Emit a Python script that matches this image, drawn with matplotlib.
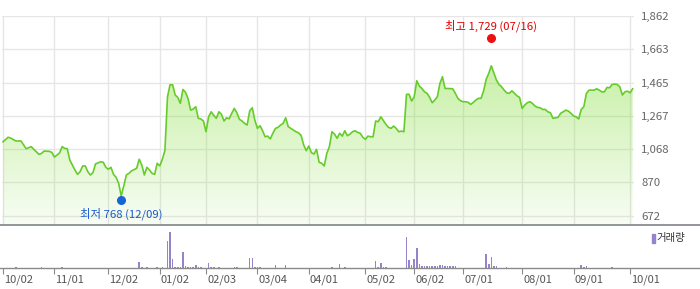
import matplotlib
matplotlib.use("Agg")
import matplotlib.pyplot as plt
import matplotlib.transforms as mtransforms
from matplotlib.patches import Rectangle
import numpy as np

plt.rcParams['font.family'] = ['Noto Sans CJK KR', 'DejaVu Sans']

# ---- data (trading-day index from 2024/10/02) ----
days = [0, 2, 3, 5, 7, 9, 11, 12, 14, 15, 16, 18, 19, 20, 22, 23, 24, 25, 26, 28,
        29, 30, 31, 32, 33, 34, 35, 36, 38, 39, 40, 41, 42, 43, 44, 45, 46, 47, 48, 49,
        50, 52, 53, 54, 55, 56, 57, 58, 59, 60, 61, 62, 63, 64, 65, 66, 67, 68, 69, 70,
        71, 72, 73, 74, 75, 76, 77, 78, 79, 80, 81, 82, 83, 84, 85, 86, 87, 88, 89, 90,
        91, 92, 93, 94, 95, 96, 97, 98, 99, 100, 101, 102, 103, 104, 105, 106, 107, 108, 109, 110,
        111, 112, 113, 114, 115, 116, 117, 118, 119, 120, 121, 122, 123, 124, 125, 126, 127, 128, 129, 130,
        131, 132, 133, 134, 135, 136, 137, 138, 139, 140, 141, 142, 143, 144, 145, 146, 147, 148, 149, 150,
        151, 152, 153, 154, 155, 156, 157, 158, 159, 160, 161, 162, 163, 164, 165, 166, 167, 168, 169, 170,
        171, 172, 173, 175, 176, 177, 178, 179, 180, 181, 182, 183, 184, 185, 186, 187, 188, 189, 190, 191,
        192, 193, 194, 195, 196, 197, 198, 200, 201, 202, 203, 204, 205, 206, 207, 208, 209, 210, 211, 212,
        213, 214, 215, 216, 217, 218, 219, 220, 221, 222, 223, 224, 225, 226, 227, 228, 229, 230, 231, 232,
        233, 234, 235, 236, 237, 238, 239, 240, 241, 242, 243, 244, 245]
prices = [1112, 1139, 1134, 1117, 1117, 1071, 1083, 1067, 1037, 1043, 1057, 1055, 1049, 1021, 1045, 1083, 1073, 1071, 1003, 944,
          918, 934, 968, 968, 934, 914, 928, 980, 993, 990, 960, 948, 960, 918, 900, 865, 789, 850, 914, 924,
          938, 954, 1008, 974, 914, 960, 944, 924, 918, 984, 968, 1008, 1060, 1380, 1452, 1452, 1391, 1377, 1341, 1424,
          1407, 1370, 1301, 1307, 1321, 1252, 1248, 1236, 1172, 1261, 1291, 1270, 1252, 1291, 1276, 1236, 1255, 1249, 1282, 1311,
          1285, 1246, 1236, 1222, 1212, 1297, 1315, 1240, 1192, 1208, 1178, 1142, 1146, 1129, 1163, 1192, 1198, 1212, 1222, 1255,
          1202, 1192, 1182, 1172, 1165, 1150, 1093, 1059, 1087, 1047, 1039, 1067, 990, 984, 968, 1043, 1083, 1172, 1158, 1133,
          1163, 1146, 1178, 1148, 1158, 1172, 1178, 1168, 1163, 1139, 1127, 1146, 1142, 1142, 1236, 1232, 1261, 1238, 1216, 1198,
          1192, 1206, 1192, 1172, 1176, 1172, 1395, 1395, 1355, 1380, 1476, 1444, 1430, 1410, 1401, 1377, 1345, 1361, 1380, 1460,
          1500, 1430, 1430, 1428, 1401, 1371, 1357, 1351, 1351, 1347, 1335, 1347, 1361, 1371, 1371, 1415, 1484, 1520, 1565, 1523,
          1480, 1454, 1440, 1420, 1404, 1401, 1416, 1386, 1377, 1311, 1331, 1345, 1351, 1341, 1325, 1317, 1315, 1305, 1305, 1291,
          1285, 1252, 1255, 1258, 1282, 1291, 1301, 1295, 1282, 1266, 1261, 1248, 1305, 1321, 1400, 1420, 1420, 1420, 1428, 1420,
          1410, 1410, 1436, 1434, 1454, 1456, 1454, 1440, 1391, 1410, 1414, 1404, 1428]

vol_days = [5, 15, 23, 53, 54, 56, 60, 62, 64, 65, 66, 67, 68, 69, 70, 71, 72, 73, 74, 75,
            76, 77, 80, 81, 82, 84, 90, 91, 96, 97, 98, 99, 100, 106, 110, 128, 131, 133, 145, 146,
            147, 148, 149, 157, 158, 159, 160, 161, 162, 163, 164, 165, 166, 167, 168, 169, 170, 171, 172, 173,
            174, 175, 176, 188, 189, 190, 191, 192, 196, 225, 226, 227, 237]
volumes = [70, 70, 70, 600, 100, 80, 80, 80, 2700, 3600, 900, 100, 100, 100, 1600, 200, 100, 100, 100, 270,
           100, 100, 500, 100, 100, 100, 100, 100, 1000, 1000, 100, 100, 100, 300, 300, 100, 400, 100, 700, 100,
           470, 100, 100, 3100, 800, 300, 900, 2000, 400, 150, 150, 150, 150, 150, 150, 200, 300, 300, 150, 150,
           150, 150, 150, 1400, 400, 1100, 150, 150, 100, 270, 100, 200, 100]

tick_days = [0, 20, 41, 61, 79, 99, 119, 141, 160, 179, 202, 222, 244]
tick_labels = ['10/02', '11/01', '12/02', '01/02', '02/03', '03/04', '04/01',
               '05/02', '06/02', '07/01', '08/01', '09/01', '10/01']
price_ticks = [672, 870, 1068, 1267, 1465, 1663, 1862]

low_day, low_val, low_label = 46, 768, '최저 768 (12/09)'
high_day, high_val, high_label = 190, 1729, '최고 1,729 (07/16)'

# ---- layout ----
W, H = 700, 289
fig = plt.figure(figsize=(W / 100, H / 100), dpi=100)
pxday = 2.57
x0px = 3.0

def xl(px):
    return (px - x0px) / pxday

ax = fig.add_axes([2 / W, 1 - 225 / H, (633.5 - 2) / W, (225 - 16) / H])
axv = fig.add_axes([0, 1 - 268 / H, 1, (268 - 225) / H])

ax.set_xlim(xl(2), xl(633.5))
ax.set_ylim(616, 1862)
axv.set_xlim(xl(0), xl(700))

# grid
gridc = '#e6e6e6'
for t in price_ticks:
    ax.axhline(t, color=gridc, lw=1, zorder=0.5)
for t in tick_days:
    ax.axvline(t, color=gridc, lw=1, zorder=0.5)

# gradient fill
ymin = 616
poly = ax.fill_between(days, prices, ymin, color='none', lw=0)
top = max(prices)
n = 256
grad = np.zeros((n, 1, 4))
a = np.linspace(0, 1, n)[:, None]  # 0 at top, 1 at bottom
top_c = np.array([0.55, 0.88, 0.28])
grad[..., :3] = top_c
grad[..., 3] = 0.48 * (1 - a) + 0.06 * a
im = ax.imshow(grad, extent=[days[0], days[-1], ymin, top], aspect='auto',
               origin='upper', zorder=1)
path = poly.get_paths()[0]
im.set_clip_path(path, transform=ax.transData)
ax.plot(days, prices, color='#66cc2a', lw=1.2, zorder=3)

# markers
ax.plot([low_day], [low_val], 'o', color='#1565d8', ms=5.5, zorder=4, clip_on=False)
ax.annotate(low_label, (low_day, low_val), xytext=(0, -10), textcoords='offset points',
            ha='center', va='center', color='#1a5acb', fontsize=8.2)
ax.plot([high_day], [high_val], 'o', color='#ee1111', ms=5.5, zorder=4, clip_on=False)
ax.annotate(high_label, (high_day, high_val), xytext=(0, 9), textcoords='offset points',
            ha='center', va='center', color='#e00000', fontsize=8.2)

# price axis cosmetics
for s in ax.spines.values():
    s.set_visible(False)
ax.set_xticks([])
ax.yaxis.tick_right()
ax.set_yticks(price_ticks)
ax.set_yticklabels([f'{t:,}' for t in price_ticks])
ax.tick_params(axis='y', length=0, pad=5.5, labelsize=8.2, labelcolor='#666666')
for lab in ax.get_yticklabels():
    lab.set_horizontalalignment('left')

# volume
axv.bar(vol_days, volumes, width=0.6, color='#9683cc', lw=0)
axv.set_ylim(0, max(volumes) * 43 / 36.3)
for side in ['left', 'right']:
    axv.spines[side].set_visible(False)
axv.spines['top'].set_color('#7f8489')
axv.spines['top'].set_linewidth(1.2)
axv.spines['bottom'].set_color('#8a8a8a')
axv.spines['bottom'].set_linewidth(1.0)
axv.set_yticks([])
axv.set_xticks(tick_days)
axv.set_xticklabels([])
axv.tick_params(axis='x', direction='out', length=4, color='#8a8a8a')
off = mtransforms.ScaledTranslation(1.0 / 100, 0, fig.dpi_scale_trans)
trans = mtransforms.blended_transform_factory(axv.transData, axv.transAxes) + off
for t, lab in zip(tick_days, tick_labels):
    axv.text(t, -12 / 43, lab, transform=trans, ha='left', va='center',
             fontsize=8, color='#555555')

# legend
fig.patches.append(Rectangle((652 / W, 1 - 243 / H), 2.5 / W, 9 / H,
                             transform=fig.transFigure, color='#9683cc'))
fig.text(656 / W, 1 - 238 / H, '거래량', fontsize=7.5, color='#333333',
         ha='left', va='center')

fig.savefig('out.png', dpi=100)
